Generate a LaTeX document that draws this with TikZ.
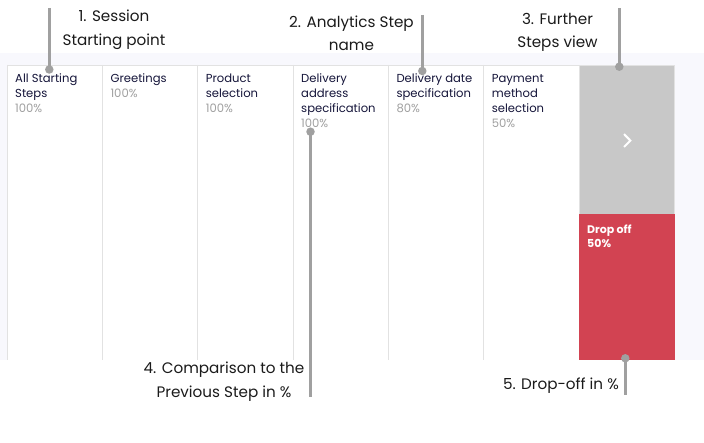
\documentclass[tikz,border=0pt]{standalone}
\usepackage{fontspec}
\setmainfont{Poppins}
\definecolor{panel}{HTML}{F8F8FD}
\definecolor{sep}{HTML}{E2E2E2}
\definecolor{further}{HTML}{C8C8C8}
\definecolor{dropred}{HTML}{D24352}
\definecolor{callout}{HTML}{A0A0A0}
\definecolor{stepink}{HTML}{15153A}
\definecolor{pctink}{HTML}{A0A0A0}
\definecolor{labelink}{HTML}{1A1A1A}
\begin{document}
\begin{tikzpicture}[x=1pt,y=-1pt,
 colbox/.style={anchor=north west, inner sep=0, minimum width=95.33pt, minimum height=295pt, fill=white},
 steptext/.style={anchor=base west, inner sep=0, align=left, font=\fontsize{11.6}{15}\selectfont, text=stepink},
 calltext/.style={inner sep=0, align=center, font=\fontsize{15.2}{23.5}\selectfont, text=labelink},
 seprule/.style={draw=sep, line width=0.8pt},
 leader/.style={draw=callout, line width=3pt},
 dotmark/.style={circle, fill=callout, inner sep=0, minimum size=8.5pt}
]
\useasboundingbox (0,0) rectangle (704,443);
\fill[panel] (0,52.7) rectangle (704,360);
% columns
\node[colbox] (c1) at (7,65) {};
\node[colbox] (c2) at (102.33,65) {};
\node[colbox] (c3) at (197.67,65) {};
\node[colbox] (c4) at (293,65) {};
\node[colbox] (c5) at (388.33,65) {};
\node[colbox] (c6) at (483.67,65) {};
\foreach \c in {c1,c2,c3,c4,c5,c6}{
  \draw[seprule] (\c.north west) -- (\c.south west);
}
\draw[seprule] (c1.north west) -- (c6.north east);
% further steps and drop-off
\node[anchor=north west, inner sep=0, minimum width=95.33pt, minimum height=149.3pt, fill=further, draw=sep, line width=0.6pt] (further) at (579,65) {};
\node[anchor=north west, inner sep=0, minimum width=95.33pt, minimum height=145.7pt, fill=dropred] (drop) at (579,214.3) {};
\draw[white, line width=2pt, line join=miter]
  ([xshift=-2.9pt,yshift=5.8pt]further.center) -- ([xshift=3.4pt,yshift=-0.6pt]further.center) -- ([xshift=-2.9pt,yshift=-7pt]further.center);
\node[anchor=base west, inner sep=0, align=left, text=white, font=\fontsize{11}{14.5}\selectfont\bfseries] (droptext) at ([xshift=8pt,yshift=-33.4pt]drop.north west) {Drop off\\50\%};
% step texts (anchored at the baseline of their last line)
\node[steptext] (t1) at ([xshift=8pt,yshift=-48pt]c1.north west) {All Starting\\Steps\\\textcolor{pctink}{100\%}};
\node[steptext] (t2) at ([xshift=8pt,yshift=-33pt]c2.north west) {Greetings\\\textcolor{pctink}{100\%}};
\node[steptext] (t3) at ([xshift=8pt,yshift=-48pt]c3.north west) {Product\\selection\\\textcolor{pctink}{100\%}};
\node[steptext] (t4) at ([xshift=8pt,yshift=-63pt]c4.north west) {Delivery\\address\\specification\\\textcolor{pctink}{100\%}};
\node[steptext] (t5) at ([xshift=8pt,yshift=-48pt]c5.north west) {Delivery date\\specification\\\textcolor{pctink}{80\%}};
\node[steptext] (t6) at ([xshift=8pt,yshift=-63pt]c6.north west) {Payment\\method\\selection\\\textcolor{pctink}{50\%}};
% callouts
\coordinate (e1) at (49.3,8);
\coordinate (e2) at (422.3,15);
\coordinate (e3) at (619.3,8.3);
\coordinate (e4) at (310.5,396.7);
\coordinate (e5) at (625.3,395);
\node[dotmark] (d1) at (49.3,69.5) {};
\node[dotmark] (d2) at (422.3,71) {};
\node[dotmark] (d3) at (619.3,66.7) {};
\node[dotmark] (d4) at (310.5,131.7) {};
\node[dotmark] (d5) at (625.3,358.3) {};
\draw[leader] (e1) -- (d1.center);
\draw[leader] (e2) -- (d2.center);
\draw[leader] (e3) -- (d3.center);
\draw[leader] (e4) -- (d4.center);
\draw[leader] (e5) -- (d5.center);
% labels (anchored at the baseline of their last line)
\node[calltext, anchor=base] (lab1) at (114,45.5) {1. Session\\Starting point};
\node[calltext, anchor=base] (lab2) at (351.5,50.7) {2. Analytics Step\\name};
\node[calltext, anchor=base] (lab3) at (557.5,47.7) {3. Further\\Steps view};
\node[calltext, anchor=base] (lab4) at (224,397) {4. Comparison to the\\Previous Step in \%};
\node[calltext, anchor=base east] (lab5) at (619,390) {5. Drop-off in \%};
\end{tikzpicture}
\end{document}
